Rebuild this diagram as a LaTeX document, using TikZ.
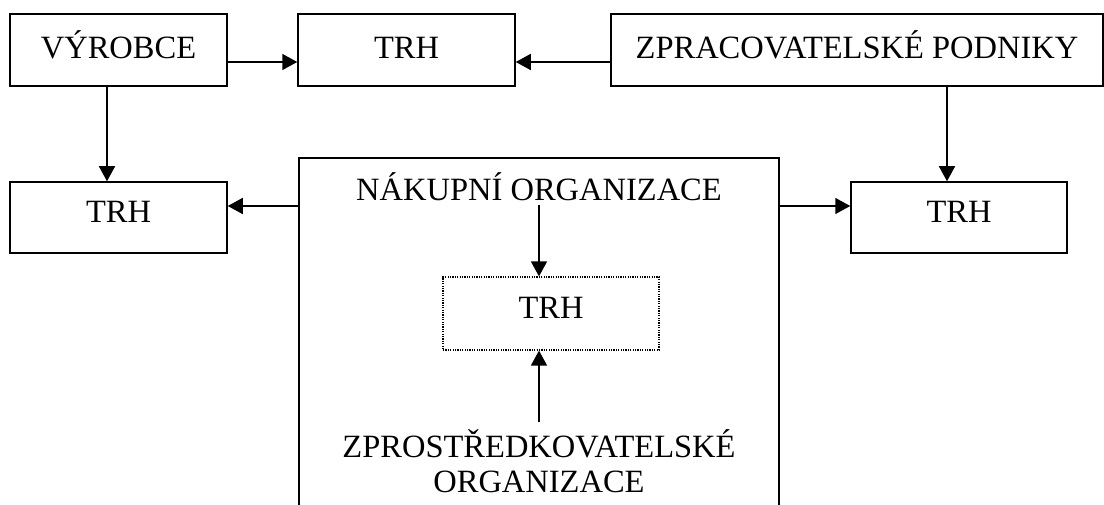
\documentclass[tikz,border=0pt]{standalone}
\usepackage{fontspec}
\setmainfont{Liberation Serif}
\usetikzlibrary{arrows.meta,calc}
\begin{document}
\begin{tikzpicture}[x=1pt,y=-1pt,
  font=\fontsize{32.5}{35}\selectfont,
  boxnode/.style={draw,line width=1.5pt,rectangle,minimum height=72pt,inner sep=0pt,align=center},
  toprow/.style={text height=22pt,text depth=4pt},
  midrow/.style={text height=18pt,text depth=8pt},
  dotbox/.style={draw,line width=1.2pt,dash pattern=on 1.2pt off 1.2pt,rectangle,inner sep=0pt,text height=18pt,text depth=7pt},
  txt/.style={inner sep=0pt,align=center},
  arr/.style={line width=1.5pt,-{Triangle[length=15pt,width=16pt]}}]
\useasboundingbox (0,0) rectangle (1104,505);
% top row
\node[boxnode,toprow,minimum width=217pt] (vyr) at (118.5,50) {VÝROBCE};
\node[boxnode,toprow,minimum width=217pt] (trh1) at (406.5,50) {TRH};
\node[boxnode,toprow,minimum width=492pt] (zpr) at (857,50) {ZPRACOVATELSKÉ PODNIKY};
% second row
\node[boxnode,midrow,minimum width=217pt,minimum height=71pt] (trhL) at (118.5,217.5) {TRH};
\node[boxnode,midrow,minimum width=216pt,minimum height=71pt] (trhR) at (959,217.5) {TRH};
% big open box
\coordinate (bbl) at (299,505);
\coordinate (btl) at (299,158);
\coordinate (btr) at (779,158);
\coordinate (bbr) at (779,505);
\draw[line width=1.5pt] (bbl) -- (btl) -- (btr) -- (bbr);
\node[txt] (nak) at (539,187) {NÁKUPNÍ ORGANIZACE};
\node[dotbox,minimum width=216pt,minimum height=73pt] (trhD) at (551,313.5) {TRH};
\node[txt] (zpro) at (539,461) {ZPROSTŘEDKOVATELSKÉ\\ORGANIZACE};
% helper coordinates
\coordinate (h1) at (0,62);
\coordinate (h2) at (0,206);
\coordinate (v1) at (107,0);
\coordinate (v2) at (947,0);
\coordinate (v3) at (539,0);
\coordinate (a1) at (539,205);
\coordinate (a2) at (539,422);
% connectors
\draw[arr] (vyr.east |- h1) -- (trh1.west |- h1);
\draw[arr] (zpr.west |- h1) -- (trh1.east |- h1);
\draw[arr] (vyr.south -| v1) -- (trhL.north -| v1);
\draw[arr] (zpr.south -| v2) -- (trhR.north -| v2);
\draw[arr] (btl |- h2) -- (trhL.east |- h2);
\draw[arr] (btr |- h2) -- (trhR.west |- h2);
\draw[arr] (a1) -- (trhD.north -| v3);
\draw[arr] (a2) -- (trhD.south -| v3);
\end{tikzpicture}
\end{document}
